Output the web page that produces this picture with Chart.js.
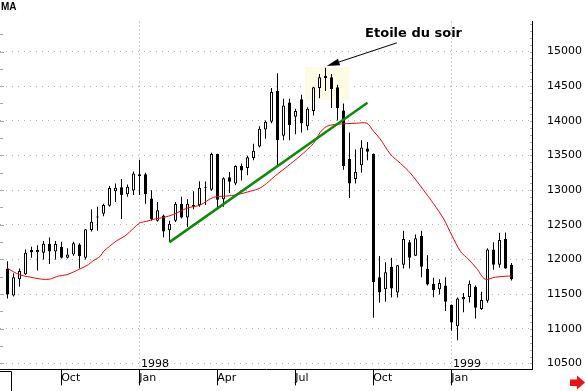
<!DOCTYPE html>
<html>
<head>
<meta charset="utf-8">
<script src="https://cdn.jsdelivr.net/npm/chart.js@4.4.1/dist/chart.umd.min.js"></script>
<style>
  html, body { margin: 0; padding: 0; background: #fff; }
  canvas { display: block; }
</style>
</head>
<body>
<canvas id="chart" width="585" height="391"></canvas>
<script>
// weekly candles, week 0 = early Aug 1997
const opens = [
  11870, 11480, 11715, 11785, 12135, 12105, 12095, 12225, 12115, 12185,
  12025, 12070, 12215, 12025, 12425, 12620, 12660, 12775, 12985, 13040,
  12940, 12995, 13230, 13230, 12880, 12560, 12635, 12420, 12560, 12805,
  12605, 12785, 12785, 13035, 13005, 13520, 12870, 13185, 13095, 13350,
  13320, 13465, 13630, 13875, 13985, 14430, 13785, 14265, 14060, 14310,
  13920, 14140, 14475, 14645, 14630, 14485, 14150, 13450, 13160, 13360,
  13600, 13525, 11745, 11570, 11895, 11525, 11925, 12250, 12055, 12340,
  11865, 11650, 11570, 11625, 11345, 11035, 11425, 11460, 11605, 11285,
  11405, 12145, 11925, 12295, 11925
];
const highs = [
  11975, 11800, 11870, 12145, 12185, 12205, 12265, 12315, 12265, 12255,
  12160, 12255, 12235, 12440, 12725, 12760, 12805, 13060, 13095, 13160,
  13080, 13270, 13440, 13250, 13000, 12830, 12650, 12560, 12830, 12905,
  12870, 12985, 13130, 13125, 13540, 13525, 13185, 13260, 13360, 13385,
  13495, 13670, 13920, 14005, 14475, 14685, 14320, 14320, 14175, 14375,
  14195, 14490, 14675, 14765, 14675, 14520, 14250, 13830, 13585, 13720,
  13695, 13530, 12050, 11960, 12025, 11920, 12415, 12280, 12360, 12415,
  12060, 11735, 11715, 11745, 11350, 11450, 11515, 11695, 11625, 11535,
  12160, 12250, 12385, 12390, 11950
];
const lows = [
  11435, 11465, 11605, 11775, 12025, 11840, 12000, 11935, 12000, 12015,
  12015, 12055, 11870, 12000, 12405, 12415, 12625, 12760, 12830, 12585,
  12905, 12930, 12930, 12805, 12560, 12545, 12315, 12250, 12540, 12590,
  12470, 12725, 12760, 12785, 12990, 12750, 12760, 12960, 13070, 13140,
  13215, 13430, 13615, 13740, 13965, 13360, 13720, 13720, 13805, 13830,
  13865, 14075, 14325, 14430, 14185, 14005, 13295, 12885, 13095, 13250,
  13430, 11160, 11375, 11390, 11450, 11450, 11870, 11870, 12050, 11745,
  11625, 11455, 11495, 11255, 10970, 10835, 11240, 11380, 11150, 11270,
  11375, 11850, 11880, 11865, 11695
];
const closes = [
  11495, 11745, 11835, 12095, 12105, 12135, 12225, 12115, 12225, 12025,
  12070, 12235, 12050, 12435, 12545, 12605, 12785, 13030, 13035, 12930,
  13050, 13240, 13205, 12940, 12585, 12710, 12405, 12515, 12805, 12605,
  12805, 12760, 13035, 13045, 13520, 12860, 13170, 13120, 13350, 13285,
  13475, 13570, 13885, 13985, 14415, 13720, 14220, 13940, 14140, 13965,
  14175, 14485, 14630, 14615, 14460, 14185, 13350, 13095, 13265, 13615,
  13555, 11670, 11525, 11815, 11580, 11915, 12295, 12025, 12305, 11895,
  11640, 11560, 11660, 11390, 11090, 11435, 11460, 11650, 11305, 11415,
  12145, 11925, 12280, 11870, 11715
];

// red moving average
const maWeeks = [0, 2, 3.8, 5.7, 7, 8.5, 9.9, 12, 13.5, 14.1, 15.5, 16, 18.2, 19.6, 21, 22.1,
  23.2, 24.6, 26, 27.7, 29.9, 32.1, 34.3, 36.6, 38, 40.5, 42.1, 43.5, 44.6, 46.6, 48.8, 51,
  52.1, 53.2, 54.9, 58.2, 59.9, 61, 62.1, 63.8, 65.5, 67.1, 69.3, 71, 72.7, 74.1, 75.5, 76.8,
  78.2, 79.6, 81.3, 83.5, 84];
const maValues = [11870, 11780, 11745, 11715, 11715, 11760, 11780, 11860, 11925, 11970, 12050,
  12115, 12270, 12340, 12450, 12530, 12550, 12585, 12605, 12650, 12740, 12785, 12895, 12915,
  12930, 12985, 13030, 13120, 13205, 13340, 13495, 13675, 13830, 13920, 13950, 13965, 13965,
  13850, 13740, 13520, 13385, 13250, 13005, 12805, 12585, 12340, 12115, 12005, 11870, 11715,
  11745, 11760, 11760];

// green support line
const trendWeeks = [27, 60];
const trendValues = [12250, 14260];

const monthTicks = [8.95, 21.95, 34.95, 47.95, 60.95, 73.95];
const monthLabels = ['Oct', 'Jan', 'Apr', 'Jul', 'Oct', 'Jan'];
const yearTicks = [21.95, 73.95];
const yearLabels = ['1998', '1999'];
const priceTicks = [10500, 11000, 11500, 12000, 12500, 13000, 13500, 14000, 14500, 15000];

// "evening star" note
const noteText = 'Etoile du soir';
const noteAt = [59.6, 15205];
const arrowFrom = [64.9, 15125];
const arrowTo = [53.2, 14790];
const starBoxWeeks = [49.6, 57];
const starBoxValues = [14300, 14775];

const FONT = '"DejaVu Sans", sans-serif';
Chart.defaults.font.family = FONT;
Chart.defaults.font.size = 11;
Chart.defaults.color = '#000';

const decor = {
  id: 'decor',
  beforeDatasetsDraw(chart) {
    const { ctx, chartArea: area, scales: { x, y } } = chart;
    ctx.save();
    // dotted year separators
    ctx.strokeStyle = '#a8a8a8';
    ctx.lineWidth = 1;
    ctx.setLineDash([1, 3]);
    yearTicks.forEach(v => {
      const px = Math.round(x.getPixelForValue(v)) + 0.5;
      ctx.beginPath();
      ctx.moveTo(px, area.top);
      ctx.lineTo(px, area.bottom);
      ctx.stroke();
    });
    ctx.setLineDash([]);
    // pale highlight behind the evening star
    const l = x.getPixelForValue(starBoxWeeks[0]);
    const r = x.getPixelForValue(starBoxWeeks[1]);
    const t = y.getPixelForValue(starBoxValues[1]);
    const b = y.getPixelForValue(starBoxValues[0]);
    ctx.fillStyle = '#fcfce4';
    ctx.fillRect(l, t, r - l, b - t);
    ctx.restore();
  },
  afterDraw(chart) {
    const { ctx, chartArea: area, scales: { x, y } } = chart;
    ctx.save();

    // small gray ticks on left edge and inside of the right axis
    ctx.strokeStyle = '#a8a8a8';
    ctx.lineWidth = 1;
    for (let v = 10500; v <= 15400; v += 250) {
      const py = Math.round(y.getPixelForValue(v)) + 0.5;
      ctx.beginPath();
      ctx.moveTo(0, py);
      ctx.lineTo(v % 500 === 0 ? 4 : 3, py);
      ctx.stroke();
    }
    for (let v = 10500; v <= 15400; v += 100) {
      const py = Math.round(y.getPixelForValue(v)) + 0.5;
      ctx.beginPath();
      ctx.moveTo(area.right - 2, py);
      ctx.lineTo(area.right, py);
      ctx.stroke();
    }

    // year labels above the axis
    ctx.fillStyle = '#000';
    ctx.font = '11px ' + FONT;
    ctx.textBaseline = 'alphabetic';
    ctx.textAlign = 'left';
    yearTicks.forEach((v, i) => {
      ctx.fillText(yearLabels[i], Math.round(x.getPixelForValue(v)) + 2, area.bottom - 2);
    });

    // annotation
    ctx.font = 'bold 13px ' + FONT;
    ctx.fillText(noteText, x.getPixelForValue(noteAt[0]), y.getPixelForValue(noteAt[1]));
    const x1 = x.getPixelForValue(arrowFrom[0]), y1 = y.getPixelForValue(arrowFrom[1]);
    const x2 = x.getPixelForValue(arrowTo[0]), y2 = y.getPixelForValue(arrowTo[1]);
    const len = Math.hypot(x1 - x2, y1 - y2);
    const ux = (x1 - x2) / len, uy = (y1 - y2) / len;
    ctx.strokeStyle = '#000';
    ctx.beginPath();
    ctx.moveTo(x1, y1);
    ctx.lineTo(x2 + ux * 10, y2 + uy * 10);
    ctx.stroke();
    ctx.beginPath();
    ctx.moveTo(x2, y2);
    ctx.lineTo(x2 + ux * 13 - uy * 3.5, y2 + uy * 13 + ux * 3.5);
    ctx.lineTo(x2 + ux * 13 + uy * 3.5, y2 + uy * 13 - ux * 3.5);
    ctx.closePath();
    ctx.fill();

    // title fragment top left
    ctx.font = 'bold 10px "Liberation Sans", sans-serif';
    ctx.fillText('MA', 1, 10);

    // little frame bottom left
    ctx.beginPath();
    ctx.moveTo(0, 371.5);
    ctx.lineTo(11.5, 371.5);
    ctx.lineTo(11.5, 391);
    ctx.stroke();

    // red scroll arrow bottom right
    ctx.fillStyle = '#ee1111';
    ctx.beginPath();
    ctx.moveTo(570, 379.5);
    ctx.lineTo(577, 379.5);
    ctx.lineTo(577, 375.5);
    ctx.lineTo(585, 382.5);
    ctx.lineTo(577, 389.5);
    ctx.lineTo(577, 386);
    ctx.lineTo(570, 386);
    ctx.closePath();
    ctx.fill();

    ctx.restore();
  }
};

const isDown = (i) => closes[i] < opens[i];

new Chart(document.getElementById('chart'), {
  type: 'bar',
  data: {
    datasets: [
      {
        type: 'line',
        data: trendWeeks.map((w, i) => ({ x: w, y: trendValues[i] })),
        borderColor: '#0c8a0c',
        borderWidth: 2.5,
        pointRadius: 0,
        order: 0
      },
      {
        type: 'line',
        data: maWeeks.map((w, i) => ({ x: w, y: maValues[i] })),
        borderColor: '#ff0000',
        borderWidth: 1,
        pointRadius: 0,
        tension: 0.3,
        order: 1
      },
      {
        // bodies
        data: opens.map((o, i) => ({ x: i, y: [o, closes[i]] })),
        backgroundColor: (c) => isDown(c.dataIndex) ? '#000' : '#fff',
        borderColor: '#000',
        borderWidth: 1,
        borderSkipped: false,
        barThickness: 3,
        minBarLength: 1,
        inflateAmount: 0,
        grouped: false,
        order: 2
      },
      {
        // wicks
        data: highs.map((h, i) => ({ x: i, y: [lows[i], h] })),
        backgroundColor: '#000',
        borderWidth: 0,
        barThickness: 1,
        inflateAmount: 0,
        grouped: false,
        order: 3
      }
    ]
  },
  options: {
    responsive: false,
    animation: false,
    devicePixelRatio: 1,
    layout: { padding: 0 },
    plugins: { legend: { display: false }, tooltip: { enabled: false } },
    scales: {
      x: {
        type: 'linear',
        min: -1.25,
        max: -1.25 + 532 / 6,
        offset: false,
        afterFit: (s) => { s.height = 16; },
        afterBuildTicks: (s) => { s.ticks = monthTicks.map(v => ({ value: v })); },
        grid: {
          offset: false,
          drawOnChartArea: false,
          tickColor: '#000',
          tickLength: 16,
          tickWidth: 1
        },
        border: { display: true, color: '#000', width: 1 },
        ticks: {
          autoSkip: false,
          maxRotation: 0,
          align: 'start',
          padding: -14,
          font: { size: 11 },
          callback: (v, i) => monthLabels[i]
        }
      },
      y: {
        type: 'linear',
        position: 'right',
        min: 15431.4 - 375 * 13.38,
        max: 15431.4,
        beginAtZero: false,
        afterFit: (s) => { s.width = 53; },
        afterBuildTicks: (s) => { s.ticks = priceTicks.map(v => ({ value: v })); },
        grid: { color: '#b4b4b4', drawTicks: false },
        border: { display: true, color: '#000', width: 1, dash: [1, 5] },
        ticks: { padding: 15, font: { size: 11 }, callback: (v) => String(v) }
      }
    }
  },
  plugins: [decor]
});
</script>
</body>
</html>
